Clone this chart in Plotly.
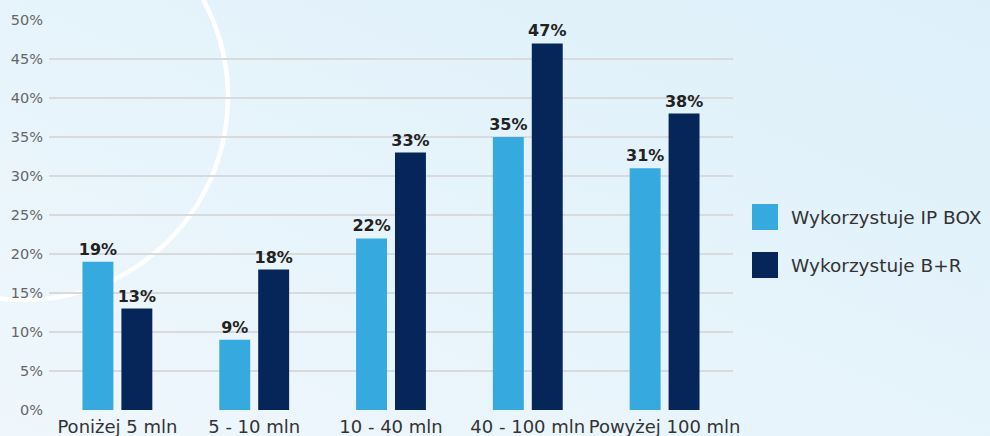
import base64
import plotly.graph_objects as go

categories = ["Poniżej 5 mln", "5 - 10 mln", "10 - 40 mln", "40 - 100 mln", "Powyżej 100 mln"]
ip_box = [19, 9, 22, 35, 31]
b_r = [13, 18, 33, 47, 38]
series_names = ["Wykorzystuje IP BOX", "Wykorzystuje B+R"]
colors = ["#36a9df", "#06265a"]
y_ticks = [0, 5, 10, 15, 20, 25, 30, 35, 40, 45, 50]

W, H = 990, 436
ML, MR, MT, MB = 49, 257, 20, 26
PW, PH = W - ML - MR, H - MT - MB

FONT = "DejaVu Sans"

svg = f'''<svg xmlns="http://www.w3.org/2000/svg" width="{W}" height="{H}" viewBox="0 0 {W} {H}">
<defs><linearGradient id="g" x1="0" y1="1" x2="1" y2="0">
<stop offset="0" stop-color="#eff7fc"/><stop offset="1" stop-color="#ddf0fa"/></linearGradient></defs>
<rect width="{W}" height="{H}" fill="url(#g)"/>
<circle cx="25" cy="97" r="203" fill="none" stroke="#ffffff" stroke-width="4.5"/>
</svg>'''
src = "data:image/svg+xml;base64," + base64.b64encode(svg.encode()).decode()

fig = go.Figure()
for name, vals, col in zip(series_names, [ip_box, b_r], colors):
    fig.add_trace(go.Bar(
        x=categories, y=vals, name=name, marker_color=col, marker_line_width=0,
        text=[f"{v}%" for v in vals], textposition="outside", cliponaxis=False,
        constraintext="none",
        textfont=dict(family=FONT, size=16, color="#222222", weight="bold"),
        showlegend=False,
    ))

def px_x(px):
    return (px - ML) / PW

def px_y(py):
    return (H - MB - py) / PH

shapes = []
annotations = []
for i, (name, col) in enumerate(zip(series_names, colors)):
    top = 204 + i * 48
    shapes.append(dict(type="rect", xref="paper", yref="paper",
                       x0=px_x(752), x1=px_x(778), y0=px_y(top + 26), y1=px_y(top),
                       fillcolor=col, line_width=0, layer="above"))
    annotations.append(dict(xref="paper", yref="paper", x=px_x(789), y=px_y(top + 13),
                            text=name, showarrow=False, xanchor="left", yanchor="middle",
                            font=dict(family=FONT, size=18.5, color="#333333")))

fig.update_layout(
    width=W, height=H,
    margin=dict(l=ML, r=MR, t=MT, b=MB, pad=0),
    paper_bgcolor="rgba(0,0,0,0)", plot_bgcolor="rgba(0,0,0,0)",
    barmode="group", bargap=0.431, bargroupgap=0.205,
    showlegend=False,
    images=[dict(source=src, xref="paper", yref="paper", x=-ML / PW, y=1 + MT / PH,
                 sizex=W / PW, sizey=H / PH, sizing="stretch", xanchor="left",
                 yanchor="top", layer="below")],
    shapes=shapes, annotations=annotations,
    xaxis=dict(showgrid=False, showline=False, zeroline=False, ticks="",
               automargin=False, ticklabelstandoff=4,
               tickfont=dict(family=FONT, size=18, color="#333333")),
    yaxis=dict(range=[0, 50], tickvals=y_ticks, ticktext=[f"{t}%" for t in y_ticks],
               showgrid=True, gridcolor="#d8dadc", gridwidth=2, zeroline=False,
               showline=False, ticks="", ticklabelstandoff=5, automargin=False,
               tickfont=dict(family=FONT, size=14.5, color="#666666")),
)

fig.write_html("out.html")
